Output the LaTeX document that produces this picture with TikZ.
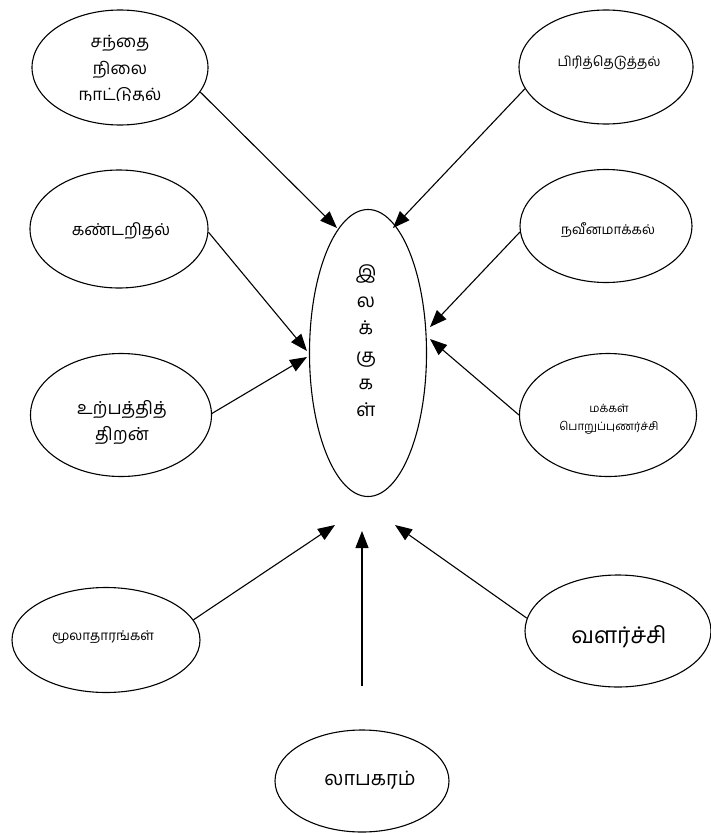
\documentclass[tikz,border=0pt]{standalone}
\usepackage{fontspec}
\newfontfamily\tamil[Script=Tamil]{Hind Madurai}
\usetikzlibrary{arrows.meta,shapes.geometric}
\begin{document}
\begin{tikzpicture}[x=1bp,y=-1bp,
  bubble/.style n args={2}{draw,ellipse,line width=1.1bp,inner sep=0pt,
    minimum width=#1bp,minimum height=#2bp},
  lbl/.style={align=center,inner sep=0pt},
  link/.style={-{Triangle[length=17bp,width=13bp]},line width=1.1bp}]
\useasboundingbox[fill=white] (0,0) rectangle (711,833);

% ellipses
\node[bubble={176}{115}] (tl) at (120,67.5) {};
\node[bubble={174}{114}] (tr) at (606,67) {};
\node[bubble={178}{118}] (l2) at (119,229) {};
\node[bubble={172}{113}] (r2) at (606,226) {};
\node[bubble={181}{123}] (l3) at (121,415) {};
\node[bubble={177}{123}] (r3) at (608,415) {};
\node[bubble={188}{105}] (bl) at (106,640) {};
\node[bubble={186}{112}] (br) at (618,631) {};
\node[bubble={174}{102}] (bt) at (362,781) {};
\node[bubble={117}{287}] (ctr) at (368,353) {};

% labels
\begin{scope}
  \clip (0,0) rectangle (711,100);
  \node[lbl,font=\tamil\fontsize{17}{27}\selectfont] (tlt) at (120,70) {சந்தை\\நிலை\\நாட்டுதல்};
\end{scope}
\node[lbl,font=\tamil\fontsize{13.5}{16}\selectfont] (trt) at (609,63) {பிரித்தெடுத்தல்};
\node[lbl,font=\tamil\fontsize{16.5}{20}\selectfont] (l2t) at (121,231) {கண்டறிதல்};
\node[lbl,font=\tamil\fontsize{13.5}{16}\selectfont] (r2t) at (608,230) {நவீனமாக்கல்};
\node[lbl,font=\tamil\fontsize{18}{26}\selectfont] (l3t) at (122,423) {உற்பத்தித்\\திறன்};
\node[lbl,font=\tamil\fontsize{11.5}{18}\selectfont] (r3t) at (609,419) {மக்கள்\\பொறுப்புணர்ச்சி};
\node[lbl,font=\tamil\fontsize{13.5}{16}\selectfont] (blt) at (103,637) {மூலாதாரங்கள்};
\node[lbl,font=\tamil\fontsize{23}{26}\selectfont] (brt) at (619,637) {வளர்ச்சி};
\node[lbl,font=\tamil\fontsize{20}{22}\selectfont] (btt) at (370,780) {லாபகரம்};
\node[lbl,font=\tamil\fontsize{19}{27.5}\selectfont] (ctt) at (366,341) {இ\\ல\\க்\\கு\\க\\ள்};

% arrow tips around the central ellipse
\coordinate (p1) at (337,228);
\coordinate (p2) at (393,228);
\coordinate (p3) at (307,351);
\coordinate (p4) at (307,357);
\coordinate (p5) at (430,327);
\coordinate (p6) at (430,339);
\coordinate (p7) at (335,525);
\coordinate (p8) at (395,525);
\coordinate (p9) at (362,531);
\coordinate (q9) at (362,686);

% connectors
\draw[link] (tl.-17) -- (p1);
\draw[link] (tr.195) -- (p2);
\draw[link] (l2.-2) -- (p3);
\draw[link] (l3.1) -- (p4);
\draw[link] (r2.184) -- (p5);
\draw[link] (r3.180) -- (p6);
\draw[link] (bl.13) -- (p7);
\draw[link] (br.172) -- (p8);
\draw[link] (q9) -- (p9);
\end{tikzpicture}
\end{document}
